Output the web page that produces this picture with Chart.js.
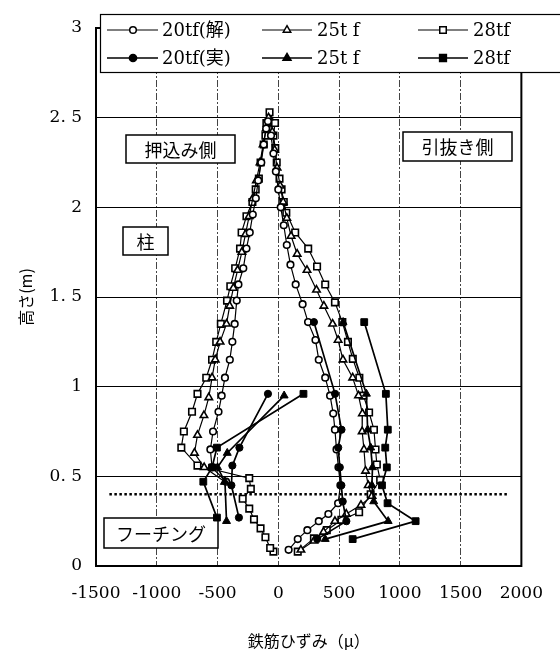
<!DOCTYPE html>
<html>
<head>
<meta charset="utf-8">
<script src="https://cdn.jsdelivr.net/npm/chart.js@4/dist/chart.umd.min.js"></script>
<style>
  html, body { margin: 0; padding: 0; background: #fff; }
  canvas { display: block; }
</style>
</head>
<body>
<canvas id="c" width="560" height="656"></canvas>
<script>
// ---- axis ticks ----
const xTickValues = [-1500, -1000, -500, 0, 500, 1000, 1500, 2000];
const xTickLabels = ['-1500', '-1000', '-500', '0', '500', '1000', '1500', '2000'];
const yTickValues = [0, 0.5, 1, 1.5, 2, 2.5, 3];
const yTickLabels = ['0', '0. 5', '1', '1. 5', '2', '2. 5', '3'];

// ---- analysis (open markers): strain [μ] along the bar, height [m] ----
const calc20Height = [0.47, 0.55, 0.65, 0.75, 0.86, 0.95, 1.05, 1.15, 1.25, 1.35,
  1.48, 1.57, 1.66, 1.77, 1.86, 1.96, 2.05, 2.15, 2.25, 2.35, 2.44, 2.48,
  2.40, 2.30, 2.20, 2.10, 2.00, 1.90, 1.79, 1.68, 1.57, 1.46,
  1.36, 1.26, 1.15, 1.05, 0.95, 0.85, 0.76, 0.65, 0.55, 0.45,
  0.35, 0.29, 0.25, 0.20, 0.15, 0.09];
const calc20Strain = [-430, -545, -559, -537, -492, -466, -439, -399, -378, -359,
  -342, -328, -288, -262, -235, -210, -185, -165, -140, -120, -100, -85,
  -60, -40, -20, 0, 20, 45, 70, 100, 143, 200,
  245, 306, 333, 386, 426, 452, 466, 479, 495, 511,
  492, 412, 333, 239, 160, 85];

const calc25Height = [0.47, 0.55, 0.63, 0.73, 0.84, 0.94, 1.05, 1.15, 1.25, 1.35,
  1.45, 1.55, 1.65, 1.75, 1.85, 1.95, 2.05, 2.15, 2.25, 2.35, 2.44, 2.50,
  2.42, 2.32, 2.22, 2.12, 2.03, 1.94, 1.84, 1.74,
  1.65, 1.54, 1.45, 1.35, 1.26, 1.15, 1.05, 0.95, 0.85, 0.75,
  0.65, 0.53, 0.45, 0.39, 0.34, 0.29, 0.25, 0.19, 0.14, 0.09];
const calc25Strain = [-440, -610, -690, -665, -612, -572, -545, -519, -479, -426,
  -400, -370, -335, -300, -270, -240, -210, -180, -150, -125, -100, -80,
  -50, -30, -10, 15, 40, 70, 105, 155,
  236, 314, 375, 447, 492, 532, 612, 660, 692, 690,
  705, 718, 740, 771, 680, 559, 466, 372, 293, 186];

const calc28Height = [0.08, 0.10, 0.16, 0.21, 0.26, 0.32, 0.375, 0.43, 0.49,
  0.56, 0.66, 0.75, 0.86, 0.96, 1.05, 1.15, 1.25, 1.35,
  1.48, 1.56, 1.66, 1.77, 1.86, 1.95, 2.03, 2.10, 2.16, 2.25,
  2.35, 2.40, 2.47, 2.53,
  2.47, 2.40, 2.33, 2.25, 2.16, 2.10, 2.03, 1.97,
  1.86, 1.77, 1.67, 1.57, 1.47, 1.36, 1.25, 1.155, 1.05, 0.95,
  0.856, 0.76, 0.65, 0.566, 0.48, 0.40, 0.30, 0.257, 0.20, 0.154, 0.08];
const calc28Strain = [-40, -67, -106, -146, -200, -239, -293, -226, -239,
  -665, -798, -777, -710, -665, -593, -545, -511, -473,
  -422, -395, -355, -315, -302, -262, -213, -186, -160, -146,
  -120, -106, -98, -72,
  -27, -40, -25, -13, 10, 27, 45, 66,
  139, 246, 319, 386, 466, 527, 573, 613, 667, 700,
  747, 787, 800, 811, 838, 760, 665, 519, 399, 293, 160];

// ---- test results (filled markers): compression side and tension side ----
const exp20CompHeight = [0.96, 0.66, 0.56, 0.45, 0.27];
const exp20CompStrain = [-85, -320, -378, -386, -324];
const exp25CompHeight = [0.95, 0.63, 0.55, 0.47, 0.25];
const exp25CompStrain = [48, -420, -500, -439, -426];
const exp28CompHeight = [0.96, 0.66, 0.55, 0.47, 0.27];
const exp28CompStrain = [207, -505, -545, -617, -505];

const exp20TensHeight = [1.36, 0.96, 0.76, 0.66, 0.55, 0.45, 0.36, 0.25, 0.15];
const exp20TensStrain = [293, 467, 520, 493, 506, 519, 530, 560, 320];
const exp25TensHeight = [1.36, 0.96, 0.76, 0.66, 0.55, 0.45, 0.36, 0.25, 0.15];
const exp25TensStrain = [533, 725, 735, 760, 775, 770, 785, 904, 386];
const exp28TensHeight = [1.36, 0.96, 0.76, 0.66, 0.55, 0.45, 0.35, 0.25, 0.15];
const exp28TensStrain = [707, 885, 901, 880, 893, 853, 899, 1130, 612];

// footing top reference (dotted line)
const footingTopHeight = 0.4;
const footingLineSpan = [-1390, 1900];

const toPoints = (xs, ys) => xs.map((v, i) => ({ x: v, y: ys[i] }));

const SERIF = '"DejaVu Serif", "Noto Sans CJK JP", serif';
const CJK = '"Noto Sans CJK JP", sans-serif';

function openSet(label, xs, ys, style, r) {
  return {
    label, data: toPoints(xs, ys), showLine: true,
    borderColor: '#000', borderWidth: 1.2,
    pointStyle: style, pointRadius: r, pointHoverRadius: r,
    pointBackgroundColor: '#fff', pointBorderColor: '#000', pointBorderWidth: 1.6
  };
}
function filledSet(label, xs, ys, style, r) {
  return {
    label, data: toPoints(xs, ys), showLine: true,
    borderColor: '#000', borderWidth: 1.7,
    pointStyle: style, pointRadius: r, pointHoverRadius: r,
    pointBackgroundColor: '#000', pointBorderColor: '#000', pointBorderWidth: 1
  };
}

const datasets = [
  filledSet('20tf(実)', exp20CompStrain, exp20CompHeight, 'circle', 3.6),
  filledSet('20tf(実)', exp20TensStrain, exp20TensHeight, 'circle', 3.6),
  filledSet('25t f', exp25CompStrain, exp25CompHeight, 'triangle', 4.6),
  filledSet('25t f', exp25TensStrain, exp25TensHeight, 'triangle', 4.6),
  filledSet('28tf', exp28CompStrain, exp28CompHeight, 'rect', 4.8),
  filledSet('28tf', exp28TensStrain, exp28TensHeight, 'rect', 4.8),
  openSet('20tf(解)', calc20Strain, calc20Height, 'circle', 3.3),
  openSet('25t f', calc25Strain, calc25Height, 'triangle', 4.3),
  openSet('28tf', calc28Strain, calc28Height, 'rect', 4.6),
  {
    label: 'footing', showLine: true,
    data: footingLineSpan.map(v => ({ x: v, y: footingTopHeight })),
    borderColor: '#000', borderWidth: 2.5, borderDash: [2.5, 2.5],
    pointRadius: 0
  }
];

// ---- legend, frame and note boxes ----
const legendRows = [
  [ { text: '20tf(解)', style: 'circle', r: 3.3, fill: '#fff', lw: 1.2 },
    { text: '25t f', style: 'triangle', r: 4.3, fill: '#fff', lw: 1.2 },
    { text: '28tf', style: 'rect', r: 4.6, fill: '#fff', lw: 1.2 } ],
  [ { text: '20tf(実)', style: 'circle', r: 3.6, fill: '#000', lw: 1.7 },
    { text: '25t f', style: 'triangle', r: 4.6, fill: '#000', lw: 1.7 },
    { text: '28tf', style: 'rect', r: 4.8, fill: '#000', lw: 1.7 } ]
];
const legendCols = [
  { x0: 107, x1: 158, mark: 133, textX: 162 },
  { x0: 262, x1: 312, mark: 287, textX: 317 },
  { x0: 418, x1: 468, mark: 443, textX: 473 }
];
const legendRowY = [30, 58];

const noteBoxes = [
  { text: '押込み側', x: 126, y: 135, w: 109, h: 28 },
  { text: '引抜き側', x: 403, y: 132, w: 109, h: 29 },
  { text: '柱', x: 123, y: 227, w: 45, h: 28 },
  { text: 'フーチング', x: 104, y: 518, w: 114, h: 30 }
];

function marker(ctx, style, x, y, r) {
  ctx.beginPath();
  if (style === 'circle') {
    ctx.arc(x, y, r, 0, Math.PI * 2);
  } else if (style === 'triangle') {
    ctx.moveTo(x, y - r);
    ctx.lineTo(x + 0.866 * r, y + 0.5 * r);
    ctx.lineTo(x - 0.866 * r, y + 0.5 * r);
    ctx.closePath();
  } else {
    const s = Math.SQRT1_2 * r;
    ctx.rect(x - s, y - s, 2 * s, 2 * s);
  }
  ctx.fill();
  ctx.stroke();
}

const decorations = {
  id: 'decorations',
  beforeDatasetsDraw(chart) {
    const { ctx, chartArea: a } = chart;
    ctx.save();
    ctx.strokeStyle = '#000';
    ctx.lineWidth = 2;
    ctx.strokeRect(a.left, a.top, a.right - a.left, a.bottom - a.top);
    ctx.font = '18px ' + CJK;
    ctx.textAlign = 'center';
    ctx.textBaseline = 'middle';
    ctx.lineWidth = 1.5;
    for (const n of noteBoxes) {
      ctx.fillStyle = '#fff';
      ctx.fillRect(n.x, n.y, n.w, n.h);
      ctx.strokeRect(n.x, n.y, n.w, n.h);
      ctx.fillStyle = '#000';
      ctx.fillText(n.text, n.x + n.w / 2, n.y + n.h / 2 + 1);
    }
    ctx.restore();
  },
  afterDraw(chart) {
    const { ctx } = chart;
    ctx.save();
    ctx.fillStyle = '#fff';
    ctx.fillRect(100, 14, 462, 58);
    ctx.strokeStyle = '#000';
    ctx.lineWidth = 1.2;
    ctx.strokeRect(100.5, 14.5, 462, 58);
    ctx.font = '18px ' + SERIF;
    ctx.textAlign = 'left';
    ctx.textBaseline = 'middle';
    legendRows.forEach((row, ri) => {
      const y = legendRowY[ri];
      row.forEach((item, ci) => {
        const col = legendCols[ci];
        ctx.strokeStyle = '#000';
        ctx.lineWidth = item.lw;
        ctx.beginPath();
        ctx.moveTo(col.x0, y);
        ctx.lineTo(col.x1, y);
        ctx.stroke();
        ctx.fillStyle = item.fill;
        ctx.lineWidth = 1.5;
        marker(ctx, item.style, col.mark, y, item.r);
        ctx.fillStyle = '#000';
        ctx.fillText(item.text, col.textX, y + 1);
      });
    });
    ctx.restore();
  }
};

function tickText(values, labels) {
  return (v) => {
    const i = values.findIndex(t => Math.abs(t - v) < 1e-9);
    return i >= 0 ? labels[i] : '';
  };
}

new Chart(document.getElementById('c'), {
  type: 'scatter',
  data: { datasets },
  plugins: [decorations],
  options: {
    responsive: false,
    animation: false,
    devicePixelRatio: 1,
    layout: { padding: { left: 0, right: 27, top: 28, bottom: 0 } },
    elements: { line: { tension: 0 } },
    plugins: { legend: { display: false }, tooltip: { enabled: false } },
    scales: {
      x: {
        type: 'linear', min: -1500, max: 2000,
        afterFit: (s) => { s.height = 90; },
        afterBuildTicks: (s) => { s.ticks = xTickValues.map(v => ({ value: v })); },
        ticks: {
          callback: tickText(xTickValues, xTickLabels),
          color: '#000', padding: 17, maxRotation: 0, autoSkip: false,
          font: { family: SERIF, size: 17 }
        },
        grid: { color: '#444', lineWidth: 1, drawTicks: false },
        border: { display: true, color: '#000', width: 2, dash: [7, 2, 2, 2] },
        title: {
          display: true, text: '鉄筋ひずみ（μ）', color: '#000',
          font: { family: CJK, size: 16 },
          padding: { top: 0, bottom: 5 }
        }
      },
      y: {
        type: 'linear', min: 0, max: 3,
        afterFit: (s) => { s.width = 96; },
        afterBuildTicks: (s) => { s.ticks = yTickValues.map(v => ({ value: v })); },
        ticks: {
          callback: tickText(yTickValues, yTickLabels),
          color: '#000', padding: 14, autoSkip: false,
          font: { family: SERIF, size: 17 }
        },
        grid: { color: '#000', lineWidth: 1, drawTicks: false },
        border: { display: true, color: '#000', width: 2 },
        title: {
          display: true, text: '高さ(m)', color: '#000',
          font: { family: CJK, size: 16 },
          padding: { top: 16, bottom: 0 }
        }
      }
    }
  }
});
</script>
</body>
</html>
